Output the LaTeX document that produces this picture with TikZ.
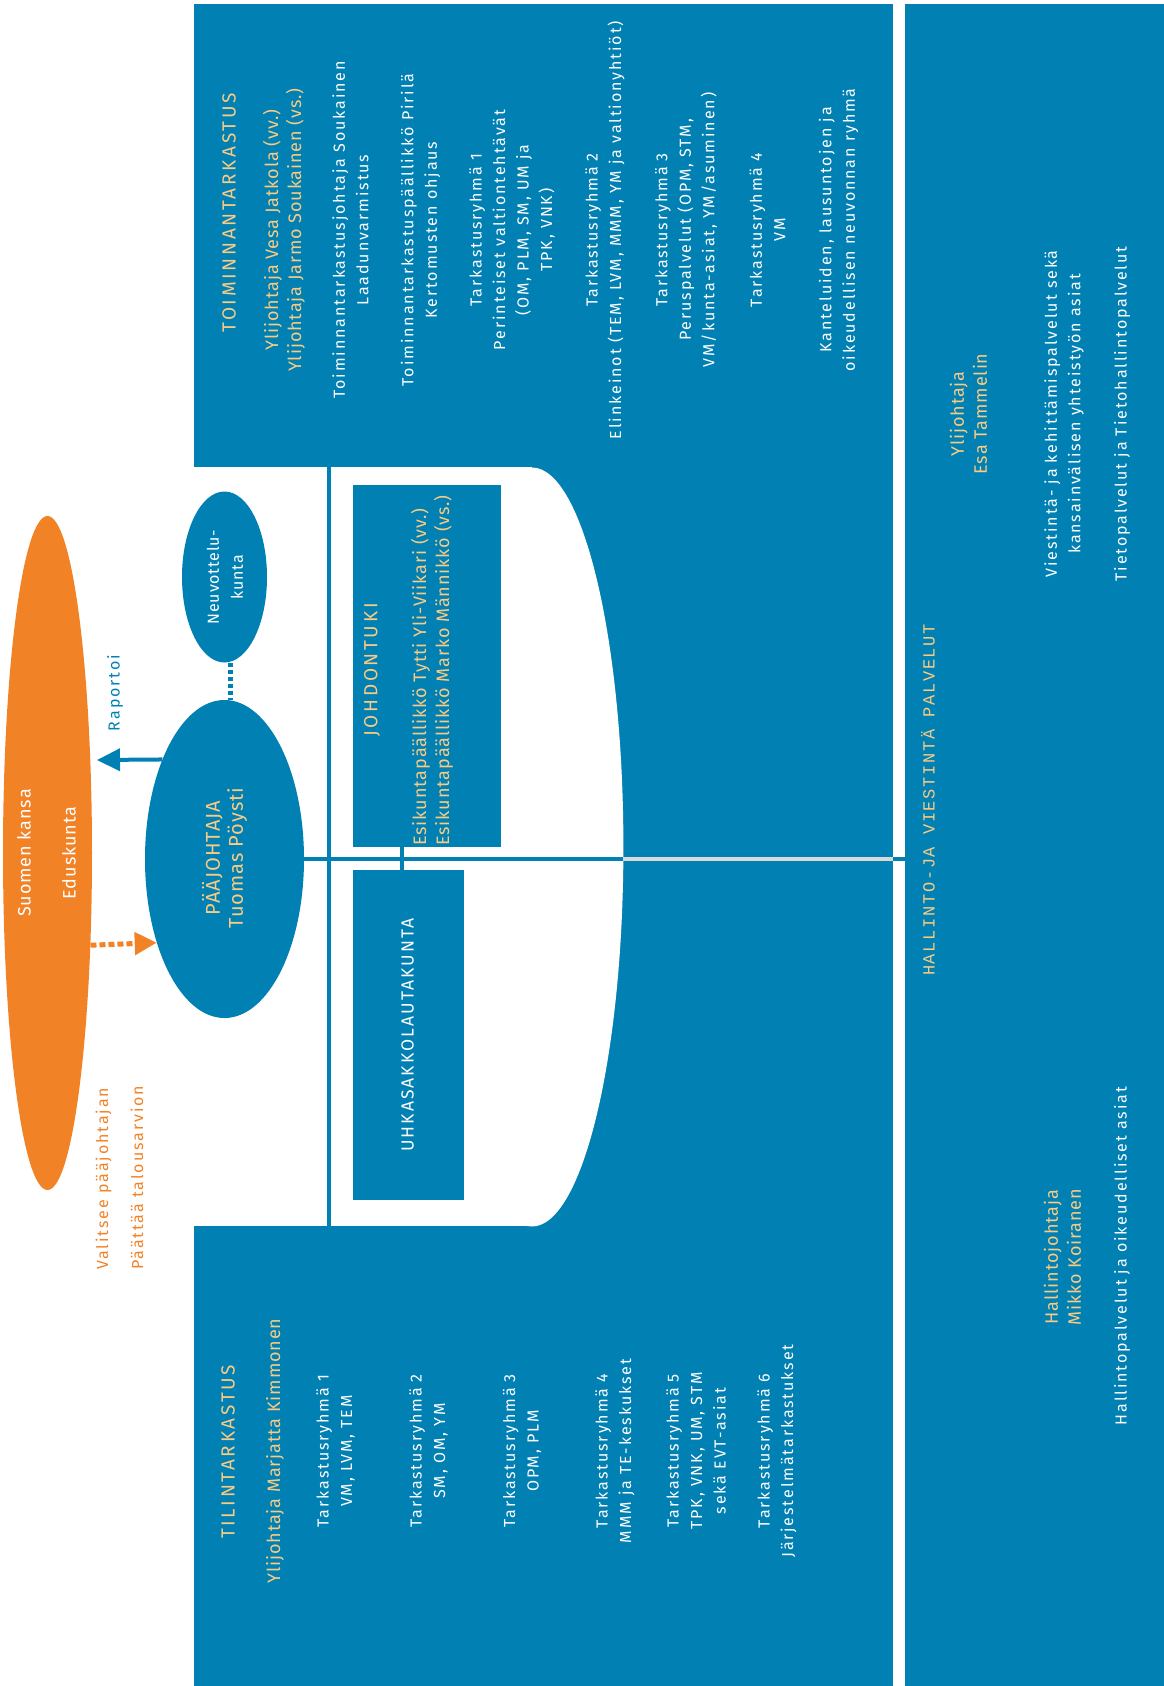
\documentclass[tikz,border=0pt]{standalone}
\usepackage{fontspec}
\setmainfont{Fira Sans}
\newfontfamily\bodyfont[LetterSpace=12]{Fira Sans}
\newfontfamily\namefont[LetterSpace=5]{Fira Sans}
\newfontfamily\headfont[LetterSpace=14]{Fira Sans}
\newfontfamily\monofont[LetterSpace=10]{Liberation Mono}
\usetikzlibrary{shapes.geometric,arrows.meta}

\definecolor{vtvblue}{HTML}{0080B3}
\definecolor{vtvorange}{HTML}{F28226}
\definecolor{vtvgold}{HTML}{F9CB84}
\definecolor{vtvgrey}{HTML}{D9D9D9}

\tikzset{
  lbl/.style={rotate=90, align=center, inner sep=0pt, text=white,
    font=\bodyfont\fontsize{16}{23.5}\selectfont},
  nm/.style={lbl, text=vtvgold, font=\namefont\fontsize{18}{23}\selectfont},
  hd/.style={lbl, text=vtvgold, font=\headfont\fontsize{19}{23}\selectfont},
  oval/.style={ellipse, fill=#1, inner sep=0pt},
  box/.style={fill=vtvblue, inner sep=0pt},
  conn/.style={vtvblue, line width=4pt},
}

\begin{document}
\begin{tikzpicture}[x=1pt, y=-1pt]
  \useasboundingbox (0,0) rectangle (1164,1686);

  % blocks
  \fill[vtvblue] (194,4) rectangle (893,1686);
  \fill[white] (194,467) rectangle (532,1226);
  \fill[white] (532,847) ellipse [x radius=91.4, y radius=379.5];
  \fill[vtvblue] (905,4) rectangle (1164,1686);

  \node[oval=vtvorange, minimum width=89pt, minimum height=674pt] (ok) at (47.5,853) {};
  \node[oval=vtvblue, minimum width=159pt, minimum height=318pt] (pj) at (224.5,859) {};
  \node[oval=vtvblue, minimum width=85pt, minimum height=171pt] (nk) at (224.5,577) {};
  \node[box, minimum width=148pt, minimum height=362pt] (jt) at (427,665.5) {};
  \node[box, minimum width=111pt, minimum height=330pt] (uk) at (408.5,1035) {};

  \coordinate (rp) at (97,760);
  \coordinate (hv) at (905,859);
  \coordinate (arcr) at (623,859);
  \coordinate (blkr) at (893,859);
  \coordinate (vt) at (329,467);
  \coordinate (vb) at (329,1226);
  \coordinate (tick) at (402,0);

  \draw[conn] (vt) -- (vb);
  \draw[conn] (pj.east) -- (hv);
  \draw[vtvgrey, line width=4pt] (arcr) -- (blkr);
  \draw[conn] (tick |- jt.south) -- (tick |- uk.north);
  \draw[conn, line width=5pt, dash pattern=on 4pt off 3pt] ([xshift=6pt]nk.south) -- ([xshift=6pt]pj.north);
  \draw[conn, -{Triangle[length=23pt, width=22pt]}] (pj.122.1) -- (rp);
  \draw[vtvorange, line width=5pt, dash pattern=on 6pt off 3pt,
    -{Triangle[length=22pt, width=22pt]}] (ok.295.2) -- (pj.231.8);

  % texts left
  \node[lbl, font=\namefont\fontsize{18}{45}\selectfont] (oktxt) at (46.5,853) {Suomen kansa\\Eduskunta};
  \node[lbl, text=vtvorange, align=left, anchor=west, font=\bodyfont\fontsize{16}{35}\selectfont]
    (okact) at (119.5,1270) {Valitsee pääjohtajan\\Päättää talousarvion};
  \node[lbl, text=vtvblue] (raport) at (115,693) {Raportoi};
  \node[lbl, text=vtvgold, font=\namefont\fontsize{20}{23}\selectfont] (pjtxt) at (224.5,858) {PÄÄJOHTAJA\\Tuomas Pöysti};
  \node[lbl, font=\namefont\fontsize{16}{24}\selectfont] (nktxt) at (225,577) {Neuvottelu-\\kunta};
  \node[hd, font=\headfont\fontsize{19}{23}\selectfont] (jttxt) at (372,670) {JOHDONTUKI};
  \node[nm, align=left, anchor=west] (jtnm) at (432,846)
    {Esikuntapäällikkö Tytti Yli-Viikari (vv.)\\Esikuntapäällikkö Marko Männikkö (vs.)};
  \node[lbl, font=\bodyfont\fontsize{17.5}{23}\selectfont] (uktxt) at (407.5,1035) {UHKASAKKOLAUTAKUNTA};

  % toiminnantarkastus
  \node[hd] (toim) at (229,213) {TOIMINNANTARKASTUS};
  \node[nm] (toimyj) at (284,230) {Ylijohtaja Vesa Jatkola (vv.)\\Ylijohtaja Jarmo Soukainen (vs.)};
  \node[lbl] (laatu) at (350.5,230) {Toiminnantarkastusjohtaja Soukainen\\Laadunvarmistus};
  \node[lbl] (kert) at (420.5,230) {Toiminnantarkastuspäällikkö Pirilä\\Kertomusten ohjaus};
  \node[lbl] (tt1) at (512,230) {Tarkastusryhmä 1\\Perinteiset valtiontehtävät\\(OM, PLM, SM, UM ja\\TPK, VNK)};
  \node[lbl] (tt2) at (605,230) {Tarkastusryhmä 2\\Elinkeinot (TEM, LVM, MMM, YM ja valtionyhtiöt)};
  \node[lbl] (tt3) at (686,230) {Tarkastusryhmä 3\\Peruspalvelut (OPM, STM,\\VM/kunta-asiat, YM/asuminen)};
  \node[lbl] (tt4) at (767.5,230) {Tarkastusryhmä 4\\VM};
  \node[lbl] (kant) at (838.5,230) {Kanteluiden, lausuntojen ja\\oikeudellisen neuvonnan ryhmä};

  % tilintarkastus
  \node[hd] (tili) at (228,1452) {TILINTARKASTUS};
  \node[nm] (tiliyj) at (275,1451) {Ylijohtaja Marjatta Kimmonen};
  \node[lbl] (tl1) at (335.5,1451) {Tarkastusryhmä 1\\VM, LVM, TEM};
  \node[lbl] (tl2) at (428.5,1451) {Tarkastusryhmä 2\\SM, OM, YM};
  \node[lbl] (tl3) at (522,1451) {Tarkastusryhmä 3\\OPM, PLM};
  \node[lbl] (tl4) at (615,1451) {Tarkastusryhmä 4\\MMM ja TE-keskukset};
  \node[lbl] (tl5) at (696,1451) {Tarkastusryhmä 5\\TPK, VNK, UM, STM\\sekä EVT-asiat};
  \node[lbl] (tl6) at (777,1451) {Tarkastusryhmä 6\\Järjestelmätarkastukset};

  % hallinto- ja viestintäpalvelut
  \node[lbl, text=vtvgold, font=\monofont\fontsize{17}{20}\selectfont] (hvl) at (928,800) {HALLINTO-JA VIESTINTÄ PALVELUT};
  \node[nm] (hvyj) at (968.5,414) {Ylijohtaja\\Esa Tammelin};
  \node[lbl] (viest) at (1064,414) {Viestintä- ja kehittämispalvelut sekä\\kansainvälisen yhteistyön asiat};
  \node[lbl] (tieto) at (1122,414) {Tietopalvelut ja Tietohallintopalvelut};
  \node[nm] (hvhj) at (1062.5,1257) {Hallintojohtaja\\Mikko Koiranen};
  \node[lbl] (hall) at (1122,1256) {Hallintopalvelut ja oikeudelliset asiat};
\end{tikzpicture}
\end{document}
